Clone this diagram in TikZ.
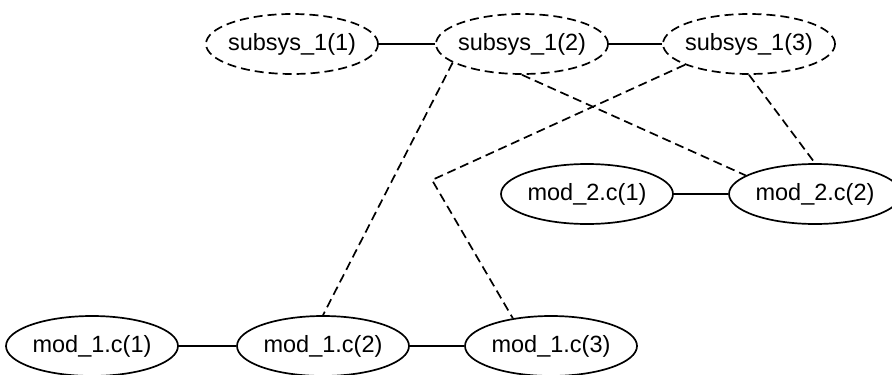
\documentclass[tikz,border=0pt]{standalone}
\usepackage{fontspec}
\setmainfont{Liberation Sans}
\usetikzlibrary{shapes.geometric}

\tikzset{
  graphnode/.style={ellipse, draw=black, line width=1.7pt, inner sep=0pt,
    minimum width=172pt, minimum height=60pt,
    font=\fontsize{23.5pt}{28pt}\selectfont},
  subsysnode/.style={graphnode, dash pattern=on 9pt off 5pt},
  solidedge/.style={draw=black, line width=1.7pt},
  dashedge/.style={draw=black, line width=1.7pt, dash pattern=on 9pt off 5pt},
}
\newcommand{\lbl}[1]{\makebox[0pt]{#1}}

\begin{document}
\begin{tikzpicture}[x=1pt, y=-1pt]
  \useasboundingbox[fill=white] (0,0) rectangle (892,375);

  % subsystem instances
  \node[subsysnode] (s1) at (292,44) {\lbl{subsys\_1(1)}};
  \node[subsysnode] (s2) at (522,44) {\lbl{subsys\_1(2)}};
  \node[subsysnode] (s3) at (749,44) {\lbl{subsys\_1(3)}};

  % module mod_2.c
  \node[graphnode] (m21) at (587,194) {\lbl{mod\_2.c(1)}};
  \node[graphnode] (m22) at (815,194) {\lbl{mod\_2.c(2)}};

  % module mod_1.c
  \node[graphnode] (m11) at (92,346) {\lbl{mod\_1.c(1)}};
  \node[graphnode] (m12) at (323,346) {\lbl{mod\_1.c(2)}};
  \node[graphnode] (m13) at (551,346) {\lbl{mod\_1.c(3)}};

  \coordinate (bend) at (432,180);

  % chains
  \draw[solidedge] (s1) -- (s2);
  \draw[solidedge] (s2) -- (s3);
  \draw[solidedge] (m21) -- (m22);
  \draw[solidedge] (m11) -- (m12);
  \draw[solidedge] (m12) -- (m13);

  % membership links
  \draw[dashedge] (s2.195) -- (m12.north);
  \draw[dashedge] (s2.south) -- (m22.165);
  \draw[dashedge] (s3.198) -- (bend) -- (m13.144);
  \draw[dashedge] (s3.south) -- (m22.north);
\end{tikzpicture}
\end{document}
